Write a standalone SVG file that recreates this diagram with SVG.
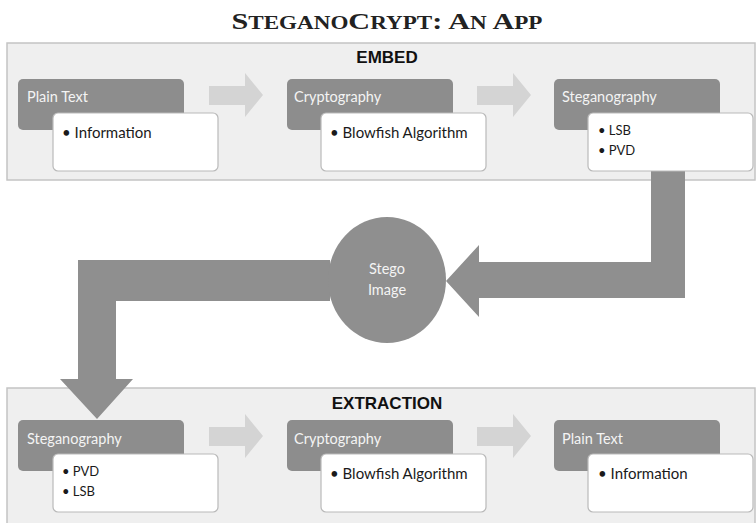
<svg xmlns="http://www.w3.org/2000/svg" width="756" height="523" viewBox="0 0 756 523">
<style>
.panel{fill:#efefef;stroke:#c4c4c4;stroke-width:1.5}
.dark{fill:#8d8d8d}
.white{fill:#ffffff;stroke:#b9b9b9;stroke-width:1.2}
.step{fill:#d4d4d4}
.big{fill:#8f8f8f}
.hd{font-family:Lato,"Open Sans",sans-serif;font-size:14.5px;fill:#f4f4f4}
.item{font-family:Lato,"Open Sans",sans-serif;font-size:15px;fill:#1a1a1a}
.small{font-family:Lato,"Open Sans",sans-serif;font-size:13px;fill:#1a1a1a}
.sec{font-family:"Liberation Sans",Arial,sans-serif;font-size:17px;font-weight:bold;fill:#111;text-anchor:middle}
.title{font-family:"Liberation Serif","DejaVu Serif",serif;font-weight:bold;fill:#222}
</style>
<rect width="756" height="523" fill="#ffffff"/>
<text class="title" x="387" y="29" text-anchor="middle" textLength="311" lengthAdjust="spacingAndGlyphs"><tspan font-size="23.5">S</tspan><tspan font-size="18">TEGANO</tspan><tspan font-size="23.5">C</tspan><tspan font-size="18">RYPT</tspan><tspan font-size="23.5">: A</tspan><tspan font-size="18">N</tspan><tspan font-size="23.5"> A</tspan><tspan font-size="18">PP</tspan></text>

<g id="embed-panel">
<rect class="panel" x="7" y="43" width="748" height="137"/>
<text class="sec" x="387" y="63">EMBED</text>
</g>
<g id="extraction-panel">
<rect class="panel" x="7" y="388" width="748" height="140"/>
<text class="sec" x="387" y="409">EXTRACTION</text>
</g>

<g id="connectors">
<polygon class="step" points="209,86 245,86 245,73 263,95 245,117 245,105 209,105"/>
<polygon class="step" points="477,86 513,86 513,73 531,95 513,117 513,105 477,105"/>
<polygon class="step" points="209,427 245,427 245,414 263,436 245,458 245,446 209,446"/>
<polygon class="step" points="477,427 513,427 513,414 531,436 513,458 513,446 477,446"/>
<polygon class="big" points="651,171 685,171 685,298 479,298 479,317 446,281 479,245 479,262 651,262"/>
<polygon class="big" points="330,260 78,260 78,379 60,379 97,419 133,379 116,379 116,301 330,301"/>
</g>

<g id="e-plain">
<rect class="dark" x="18" y="79" width="166" height="51" rx="5"/>
<text class="hd" x="27" y="102">Plain Text</text>
<rect class="white" x="53" y="113" width="165" height="58" rx="5"/>
<text class="item" x="62" y="138">• Information</text>
</g>
<g id="e-crypto">
<rect class="dark" x="287" y="79" width="166" height="51" rx="5"/>
<text class="hd" x="294" y="102">Cryptography</text>
<rect class="white" x="321" y="113" width="165" height="58" rx="5"/>
<text class="item" x="330" y="138">• Blowfish Algorithm</text>
</g>
<g id="e-stego">
<rect class="dark" x="554" y="79" width="166" height="51" rx="5"/>
<text class="hd" x="562" y="102">Steganography</text>
<rect class="white" x="588" y="113" width="165" height="58" rx="5"/>
<text class="small" x="598" y="135">• LSB</text>
<text class="small" x="598" y="155">• PVD</text>
</g>

<g id="stego-image">
<ellipse class="big" cx="387" cy="280" rx="59" ry="63"/>
<text class="hd" x="387" y="274" text-anchor="middle" font-size="15">Stego</text>
<text class="hd" x="387" y="295" text-anchor="middle" font-size="15">Image</text>
</g>

<g id="x-stego">
<rect class="dark" x="18" y="420" width="166" height="51" rx="5"/>
<text class="hd" x="27" y="444">Steganography</text>
<rect class="white" x="53" y="454" width="165" height="58" rx="5"/>
<text class="small" x="62" y="476">• PVD</text>
<text class="small" x="62" y="496">• LSB</text>
</g>
<g id="x-crypto">
<rect class="dark" x="287" y="420" width="166" height="51" rx="5"/>
<text class="hd" x="294" y="444">Cryptography</text>
<rect class="white" x="321" y="454" width="165" height="58" rx="5"/>
<text class="item" x="330" y="479">• Blowfish Algorithm</text>
</g>
<g id="x-plain">
<rect class="dark" x="554" y="420" width="166" height="51" rx="5"/>
<text class="hd" x="562" y="444">Plain Text</text>
<rect class="white" x="588" y="454" width="165" height="58" rx="5"/>
<text class="item" x="598" y="479">• Information</text>
</g>
</svg>
